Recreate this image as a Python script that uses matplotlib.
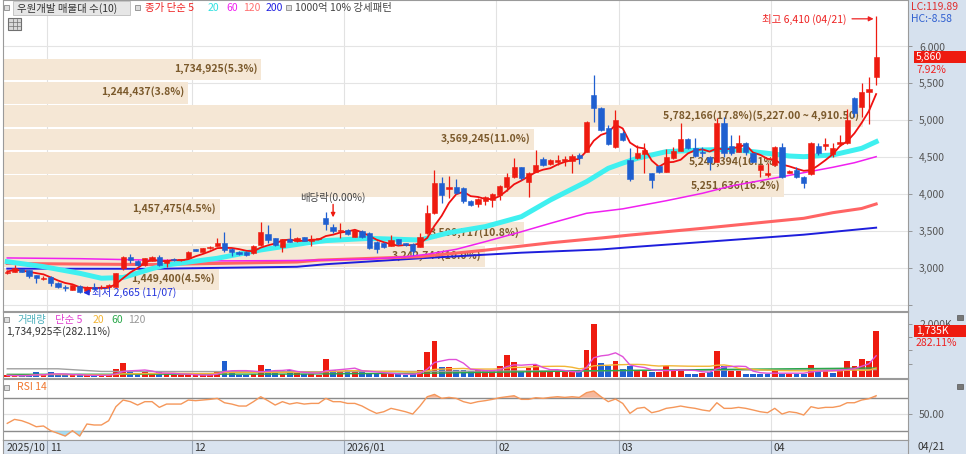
import matplotlib
matplotlib.use("Agg")
import matplotlib.pyplot as plt
import numpy as np
import pandas as pd
from matplotlib.patches import Rectangle
from matplotlib.transforms import blended_transform_factory, offset_copy

plt.rcParams["font.family"] = ["Noto Sans CJK KR", "DejaVu Sans"]
plt.rcParams["font.size"] = 7.5

# ---- daily candles, 2025/10/24 .. 2026/04/21 (121 sessions) ----
opens = [2927, 2950, 2981, 2972, 2900, 2850, 2881, 2800, 2745, 2700,
         2760, 2690, 2740, 2735, 2740, 2745, 2995, 3152, 3098, 3040,
         3098, 3144, 3062, 3120, 3110, 3130, 3252, 3220, 3265, 3297,
         3333, 3256, 3220, 3220, 3198, 3310, 3460, 3400, 3287, 3387,
         3365, 3414, 3370, 3390, 3672, 3559, 3496, 3514, 3423, 3505,
         3478, 3355, 3333, 3297, 3387, 3333, 3324, 3287, 3469, 3740,
         4146, 4074, 4101, 4085, 3910, 3865, 3910, 3920, 3988, 4101,
         4227, 4362, 4160, 4305, 4475, 4410, 4440, 4455, 4455, 4530,
         4575, 5343, 5163, 4892, 4634, 4824, 4462, 4485, 4543, 4280,
         4381, 4304, 4485, 4588, 4745, 4620, 4575, 4507, 4439, 4959,
         4655, 4575, 4688, 4553, 4327, 4259, 4394, 4642, 4290, 4327,
         4236, 4272, 4652, 4652, 4543, 4679, 4688, 5298, 5184, 5380,
         5583]
highs = [2965, 3035, 2990, 2975, 2905, 2895, 2890, 2810, 2770, 2775,
         2770, 2760, 2790, 2770, 2780, 2935, 3160, 3190, 3110, 3140,
         3155, 3175, 3115, 3135, 3125, 3230, 3260, 3275, 3295, 3400,
         3490, 3265, 3230, 3225, 3305, 3626, 3580, 3410, 3395, 3535,
         3420, 3420, 3445, 3410, 3762, 3600, 3604, 3530, 3525, 3515,
         3490, 3360, 3345, 3445, 3395, 3340, 3335, 3470, 3850, 4327,
         4236, 4250, 4200, 4100, 3920, 3945, 3975, 4010, 4120, 4280,
         4485, 4370, 4300, 4598, 4507, 4470, 4530, 4510, 4550, 4560,
         4990, 5614, 5180, 4936, 5140, 4850, 4620, 4660, 4688, 4290,
         4390, 4610, 4640, 4959, 4760, 4756, 4642, 4520, 5027, 5049,
         4801, 4801, 4710, 4560, 4400, 4417, 4650, 4688, 4330, 4371,
         4250, 4710, 4688, 4756, 4688, 4801, 5150, 5310, 5501, 5587,
         6410]
lows = [2915, 2945, 2940, 2860, 2790, 2830, 2750, 2730, 2690, 2695,
        2665, 2680, 2700, 2720, 2730, 2740, 2975, 3060, 3030, 3030,
        3090, 3020, 3010, 3090, 3100, 3125, 3225, 3215, 3260, 3290,
        3220, 3160, 3180, 3165, 3190, 3300, 3333, 3290, 3220, 3350,
        3355, 3360, 3290, 3385, 3514, 3470, 3400, 3440, 3415, 3410,
        3255, 3200, 3270, 3290, 3310, 3300, 3175, 3280, 3460, 3730,
        3875, 3950, 4000, 3875, 3840, 3820, 3850, 3830, 3920, 4040,
        4220, 4190, 3965, 4295, 4380, 4400, 4400, 4380, 4290, 4410,
        4570, 4981, 4850, 4670, 4620, 4720, 4180, 4480, 4290, 4079,
        4290, 4295, 4470, 4580, 4610, 4507, 4498, 4327, 4430, 4507,
        4530, 4565, 4530, 4430, 4236, 4236, 4380, 4214, 4280, 4214,
        4079, 4260, 4530, 4600, 4507, 4650, 4680, 5049, 5049, 4950,
        5478]
closes = [2950, 2995, 2950, 2890, 2860, 2868, 2791, 2737, 2722, 2768,
          2675, 2745, 2720, 2745, 2770, 2927, 3144, 3107, 3040, 3130,
          3144, 3040, 3107, 3107, 3116, 3220, 3234, 3265, 3287, 3333,
          3243, 3220, 3190, 3175, 3297, 3490, 3378, 3310, 3387, 3355,
          3410, 3370, 3387, 3396, 3595, 3505, 3514, 3455, 3514, 3423,
          3265, 3252, 3287, 3378, 3324, 3310, 3234, 3423, 3740, 4146,
          3988, 4101, 4011, 3910, 3850, 3935, 3965, 4000, 4110, 4227,
          4362, 4214, 4290, 4394, 4394, 4462, 4462, 4470, 4515, 4485,
          4981, 5163, 4869, 4679, 5004, 4733, 4204, 4553, 4598, 4191,
          4304, 4498, 4588, 4745, 4620, 4516, 4561, 4439, 4959, 4553,
          4561, 4688, 4575, 4439, 4394, 4290, 4642, 4236, 4318, 4236,
          4146, 4688, 4553, 4679, 4629, 4710, 5004, 5095, 5388, 5430,
          5860]
# volume in thousand shares
volume_k = [60, 50, 45, 70, 190, 60, 190, 70, 60, 70,
            80, 60, 50, 60, 90, 315, 530, 175, 125, 175,
            125, 175, 125, 90, 60, 90, 60, 70, 90, 215,
            590, 215, 90, 90, 120, 465, 315, 215, 125, 250,
            150, 125, 125, 90, 690, 250, 240, 250, 240, 200,
            150, 120, 110, 120, 100, 90, 110, 250, 930, 1360,
            380, 380, 250, 250, 215, 250, 240, 240, 400, 830,
            580, 175, 340, 450, 240, 175, 175, 175, 240, 175,
            1030, 2010, 530, 400, 590, 315, 430, 240, 215, 175,
            175, 400, 270, 315, 125, 125, 150, 190, 990, 430,
            215, 215, 125, 125, 125, 125, 215, 125, 125, 125,
            125, 450, 240, 215, 150, 215, 590, 400, 665, 614.98,
            1734.925]
rsi14 = [38.9, 43.7, 42.1, 38.9, 34.8, 35.7, 30.0, 26.8, 23.5, 30.0,
         23.5, 38.1, 36.9, 36.9, 42.1, 59.1, 67.2, 65.2, 61.1, 65.2,
         65.2, 58.3, 62.3, 62.3, 62.3, 67.2, 66.4, 67.2, 68.0, 69.2,
         63.9, 62.3, 59.9, 59.9, 65.2, 71.2, 66.4, 61.1, 65.2, 62.3,
         63.9, 62.3, 63.1, 63.1, 69.2, 65.2, 65.2, 63.1, 63.1, 59.9,
         55.1, 51.0, 53.0, 57.1, 55.1, 53.0, 50.2, 59.9, 71.2, 74.0,
         69.2, 70.4, 69.2, 65.2, 63.1, 65.2, 66.4, 68.0, 70.0, 71.2,
         72.4, 68.0, 68.0, 70.0, 69.2, 70.4, 71.2, 70.4, 71.2, 70.4,
         76.1, 78.1, 71.2, 65.2, 68.4, 63.1, 51.0, 57.1, 58.3, 51.8,
         53.8, 57.1, 58.3, 59.9, 58.3, 57.1, 55.1, 53.8, 63.9, 57.1,
         57.1, 58.3, 57.1, 55.1, 53.0, 51.8, 57.1, 50.2, 53.0, 51.8,
         49.0, 59.1, 57.1, 58.3, 58.3, 59.9, 63.9, 63.9, 67.2, 68.8,
         72.4]

month_start = [0, 6, 26, 47, 68, 85, 106]
month_label = ["2025/10", "11", "12", "2026/01", "02", "03", "04"]
last_date = "04/21"
low_date = "11/07"
ex_div_idx = 45

# price moving averages (index, value)
ma20_idx = [0, 5, 10, 13, 16, 20, 22, 29, 35, 41, 44, 50, 57, 61, 66, 71, 75, 80, 83, 85,
            87, 91, 96, 100, 105, 108, 110, 114, 118, 120]
ma20_val = [3084, 3017, 2927, 2860, 2870, 2990, 3040, 3130, 3243, 3333, 3370, 3400, 3378, 3477,
            3559, 3694, 3920, 4168, 4349, 4420, 4485, 4575, 4598, 4607, 4553, 4516, 4507, 4530,
            4620, 4710]
ma60_idx = [0, 10, 20, 30, 40, 50, 55, 58, 62, 66, 71, 75, 80, 85, 91, 96, 100, 105, 110, 114, 117, 120]
ma60_val = [3135, 3125, 3105, 3095, 3100, 3120, 3150, 3185, 3252, 3355, 3490, 3604, 3740, 3800,
            3910, 4011, 4110, 4200, 4290, 4363, 4425, 4507]
ma120_idx = [0, 20, 40, 43, 57, 66, 75, 82, 86, 96, 110, 114, 118, 120]
ma120_val = [3060, 3045, 3080, 3105, 3152, 3240, 3340, 3405, 3445, 3536, 3672, 3748, 3805, 3866]
ma200_idx = [0, 20, 40, 44, 57, 71, 82, 86, 96, 110, 120]
ma200_val = [2990, 2988, 3015, 3050, 3130, 3206, 3250, 3280, 3350, 3450, 3545]

# volume moving averages 60 / 120
vma60_idx = [0, 40, 60, 80, 100, 120]
vma60_val = [100, 110, 150, 230, 290, 340]
vma120_idx = [0, 7, 13, 45, 65, 90, 120]
vma120_val = [310, 310, 210, 200, 220, 250, 280]

# volume profile (매물대), top band first
band_edges = [5860, 5543.5, 5227, 4910.5, 4594, 4277.5, 3961, 3644.5, 3328, 3011.5, 2695]
band_vol = [1734925, 1244437, 5782166, 3569245, 5240394, 5251636, 1457475, 3500717, 3242744, 1449400]
band_pct = [5.3, 3.8, 17.8, 11.0, 16.1, 16.2, 4.5, 10.8, 10.0, 4.5]

RED = "#ee1b10"
BLUE = "#1f5fd0"

W, H = 966, 454


def rect(x0, y0, x1, y1):
    return [x0 / W, 1 - y1 / H, (x1 - x0) / W, (y1 - y0) / H]


def ftext(x, y, s, **kw):
    kw.setdefault("va", "center")
    return fig.text(x / W, 1 - y / H, s, **kw)


def fbox(x0, y0, x1, y1, **kw):
    fig.patches.append(Rectangle((x0 / W, 1 - y1 / H), (x1 - x0) / W, (y1 - y0) / H,
                                 transform=fig.transFigure, **kw))


o = np.array(opens, float)
h = np.array(highs, float)
l = np.array(lows, float)
c = np.array(closes, float)
v = np.array(volume_k, float)
r = np.array(rsi14, float)
n = len(c)
x = np.arange(n)
XL = (-0.59, 124.4)

fig = plt.figure(figsize=(W / 100, H / 100), dpi=100)
fbox(908, 0, 966, 454, facecolor="#d6e1ee", edgecolor="none", zorder=-1)

ax = fig.add_axes(rect(3, 0, 908, 311))
axv = fig.add_axes(rect(3, 312, 908, 378))
axr = fig.add_axes(rect(3, 379, 908, 440))
axd = fig.add_axes(rect(3, 440, 908, 454))

for a in (ax, axv, axr, axd):
    a.set_xlim(*XL)
    a.tick_params(axis="x", bottom=False, labelbottom=False)
    for s in a.spines.values():
        s.set_color("#9a9a9a")
        s.set_linewidth(0.8)
    a.yaxis.tick_right()
    a.tick_params(axis="y", direction="out", length=3, width=0.6, color="#8a8a8a",
                  pad=5, labelsize=7.5, labelcolor="#555555")
    a.set_axisbelow(True)
    if a is not axd:
        for m in month_start[1:]:
            a.axvline(m - 0.5, color="#e2e2e2", lw=0.8, zorder=0.4)

# ---- price panel ----
ax.set_ylim(2416, 6630)
ticks = list(range(2500, 6001, 500))
ax.set_yticks(ticks)
ax.set_yticklabels(["" if t == 2500 else f"{t:,}" for t in ticks])
ax.grid(axis="y", color="#e4e4e4", lw=0.8)

span = XL[1] - XL[0]
vmax = max(band_vol)
for i, bv in enumerate(band_vol):
    hi, lo = band_edges[i], band_edges[i + 1]
    bw = bv / vmax * span * 0.95
    gap = (hi - lo) * 0.08
    ax.bar(XL[0], hi - lo - gap, bottom=lo, width=bw, align="edge",
           color="#f5e7d5", lw=0, zorder=1)
    lab = f"{bv:,}({band_pct[i]:.1f}%)"
    if bv == vmax:
        lab += f"({hi:,.2f} ~ {lo:,.2f})"
    ax.text(XL[0] + bw - 0.5, (hi + lo) / 2, lab, ha="right", va="center",
            color="#7b5a2c", fontsize=7.5, fontweight="bold", zorder=1.5)

ax.plot(ma200_idx, ma200_val, color="#1e1edc", lw=1.4, zorder=2)
ax.plot(ma120_idx, ma120_val, color="#ff6464", lw=2.2, zorder=2)
ax.plot(ma60_idx, ma60_val, color="#f020f0", lw=1.1, zorder=2)
ax.plot(ma20_idx, ma20_val, color="#3ff0f0", lw=3.6, zorder=2)
ma5 = pd.Series(c).rolling(5, min_periods=1).mean()
ax.plot(x, ma5, color="#f01010", lw=1.3, zorder=2.5)

up = c >= o
col = np.where(up, RED, BLUE)
ax.vlines(x, l, h, colors=col, lw=0.9, zorder=4)
bh = np.maximum(np.abs(c - o), 14)
ax.bar(x, bh, bottom=(o + c) / 2 - bh / 2, width=0.72, color=col, edgecolor=col,
       lw=0.4, zorder=5)

ihi = int(np.argmax(h))
ilo = int(np.argmin(l))
ax.annotate(f"최고 {h[ihi]:,.0f} ({last_date})", xy=(ihi - 0.35, h[ihi] - 35),
            xytext=(ihi - 4.1, h[ihi] - 35), ha="right", va="center", color="#ee2222",
            fontsize=7.5, zorder=6,
            arrowprops=dict(arrowstyle="-|>", color="#ee2222", lw=0.9,
                            mutation_scale=7, shrinkA=2, shrinkB=0))
ax.annotate(f"최저 {l[ilo]:,.0f} ({low_date})", xy=(ilo + 0.5, l[ilo]),
            xytext=(ilo + 1.7, l[ilo]), ha="left", va="center", color="#2233dd",
            fontsize=7.5, zorder=6,
            arrowprops=dict(arrowstyle="-|>", color="#2233dd", lw=0.9,
                            mutation_scale=8, shrinkA=0, shrinkB=0))
ax.text(ex_div_idx, h[ex_div_idx] + 360, "배당락(0.00%)", ha="center", va="center",
        color="#444444", fontsize=7.5, zorder=6)
ax.annotate("", xy=(ex_div_idx, h[ex_div_idx] + 85), xytext=(ex_div_idx, h[ex_div_idx] + 260),
            arrowprops=dict(arrowstyle="-|>", color=RED, lw=1, mutation_scale=6,
                            shrinkA=0, shrinkB=0), zorder=6)

# right side price box
tp = blended_transform_factory(fig.transFigure, ax.transData)
fig.patches.append(Rectangle((914 / W, c[-1] - 80), 52 / W, 160, transform=tp,
                             facecolor="#ee1b10", edgecolor="none", zorder=3))
fig.text(916 / W, c[-1], f"{c[-1]:,.0f}", transform=tp, color="white", va="center",
         fontsize=7.5, zorder=4)
chg = (c[-1] / c[-2] - 1) * 100
fig.text(916 / W, c[-1], f"{chg:.2f}%", transform=offset_copy(tp, fig=fig, y=-13, units="dots"),
         color="#ee2222", va="center", fontsize=7.5, zorder=4)
lc = (c[-1] - l.min()) / l.min() * 100
hc = (c[-1] - h.max()) / h.max() * 100
ftext(911, 7, f"LC:{lc:.2f}", color="#e03030")
ftext(911, 19, f"HC:{hc:.2f}", color="#3060d0")

# top legend
fbox(4, 5, 9, 10, facecolor="#dddddd", edgecolor="#8a8a8a", lw=0.6)
fbox(13, 1, 130, 15, facecolor="#e6e6e6", edgecolor="#bdbdbd", lw=0.6)
ftext(17, 8, "우원개발 매물대 수(10)", color="#333333")
fbox(135, 5, 140, 10, facecolor="#dddddd", edgecolor="#8a8a8a", lw=0.6)
ftext(145, 8, "종가 단순 5", color="#ee2222")
ftext(208, 8, "20", color="#30e0e0")
ftext(226, 8, "60", color="#f020f0")
ftext(243, 8, "120", color="#ff7070")
ftext(266, 8, "200", color="#2020e0")
fbox(286, 5, 291, 10, facecolor="#dddddd", edgecolor="#8a8a8a", lw=0.6)
ftext(295, 8, "1000억 10% 강세패턴", color="#444444")
fbox(8, 18, 21, 30, facecolor="#d8d8d8", edgecolor="#707070", lw=0.8)
for gy in (22, 26):
    fig.lines.append(plt.Line2D([9 / W, 20 / W], [1 - gy / H, 1 - gy / H],
                                transform=fig.transFigure, color="#707070", lw=0.5))
for gx in (12.5, 16.5):
    fig.lines.append(plt.Line2D([gx / W, gx / W], [1 - 19 / H, 1 - 29 / H],
                                transform=fig.transFigure, color="#707070", lw=0.5))

# ---- volume panel ----
axv.set_ylim(-38, 2453)
axv.set_yticks([500, 1000, 1500, 2000])
axv.set_yticklabels(["", "", "", "2,000K"])
vup = np.r_[True, c[1:] >= c[:-1]]
axv.bar(x, v, width=0.8, color=np.where(vup, RED, BLUE), lw=0, zorder=3)
axv.plot(vma120_idx, vma120_val, color="#a0a0a0", lw=1, zorder=4)
axv.plot(vma60_idx, vma60_val, color="#2aa84a", lw=1, zorder=4)
axv.plot(x, pd.Series(v).rolling(20, min_periods=1).mean(), color="#f2b535", lw=1, zorder=4)
axv.plot(x, pd.Series(v).rolling(5, min_periods=1).mean(), color="#e050d8", lw=1, zorder=4)

tv = blended_transform_factory(fig.transFigure, axv.transData)
fig.patches.append(Rectangle((914 / W, v[-1] - 210), 52 / W, 420, transform=tv,
                             facecolor="#ee1b10", edgecolor="none", zorder=3))
fig.text(916 / W, v[-1], f"{v[-1]:,.0f}K", transform=tv, color="white", va="center",
         fontsize=7.5, zorder=4)
vr = v[-1] / v[-2] * 100
fig.text(916 / W, v[-1], f"{vr:.2f}%", transform=offset_copy(tv, fig=fig, y=-12, units="dots"),
         color="#ee2222", va="center", fontsize=7.5, zorder=4)

fbox(4, 317, 9, 322, facecolor="#dddddd", edgecolor="#8a8a8a", lw=0.6)
ftext(17, 320, "거래량", color="#4cb0bc")
ftext(55, 320, "단순 5", color="#e040d0")
ftext(93, 320, "20", color="#f2b535")
ftext(111, 320, "60", color="#2aa84a")
ftext(128, 320, "120", color="#999999")
ftext(6, 332, f"{v[-1] * 1000:,.0f}주({vr:.2f}%)", color="#333333")
fbox(957, 315, 963, 320, facecolor="#777777", edgecolor="#555555", lw=0.5)

# ---- RSI panel ----
axr.set_ylim(18.7, 92.7)
axr.set_yticks([50])
axr.set_yticklabels(["50.00"])
axr.axhline(50, color="#e0e0e0", lw=0.9, zorder=0.5)
axr.axhline(70, color="#8c8c8c", lw=1.0, zorder=1)
axr.axhline(30, color="#8c8c8c", lw=1.0, zorder=1)
axr.fill_between(x, r, 70, where=r >= 70, interpolate=True, color="#f6b89c", lw=0, zorder=2)
axr.fill_between(x, r, 30, where=r <= 30, interpolate=True, color="#a6dcf2", lw=0, zorder=2)
axr.plot(x, r, color="#f5975a", lw=1.0, zorder=3)
fbox(4, 385, 9, 390, facecolor="#dddddd", edgecolor="#8a8a8a", lw=0.6)
ftext(17, 387, "RSI 14", color="#f07830")
fbox(957, 384, 963, 389, facecolor="#777777", edgecolor="#555555", lw=0.5)

# ---- date band ----
axd.set_facecolor("#d9e3ef")
axd.set_ylim(0, 1)
axd.set_yticks([])
td = blended_transform_factory(axd.transData, axd.transAxes)
for m, lab in zip(month_start, month_label):
    if m > 0:
        axd.axvline(m - 0.5, color="#9aa6b6", lw=0.8)
    axd.text(m - 0.5 + 0.35, 0.45, lab, transform=td, ha="left", va="center",
             color="#333333", fontsize=7.5)
ftext(917, 447, last_date, color="#333333")

fig.savefig("out.png", dpi=100)
